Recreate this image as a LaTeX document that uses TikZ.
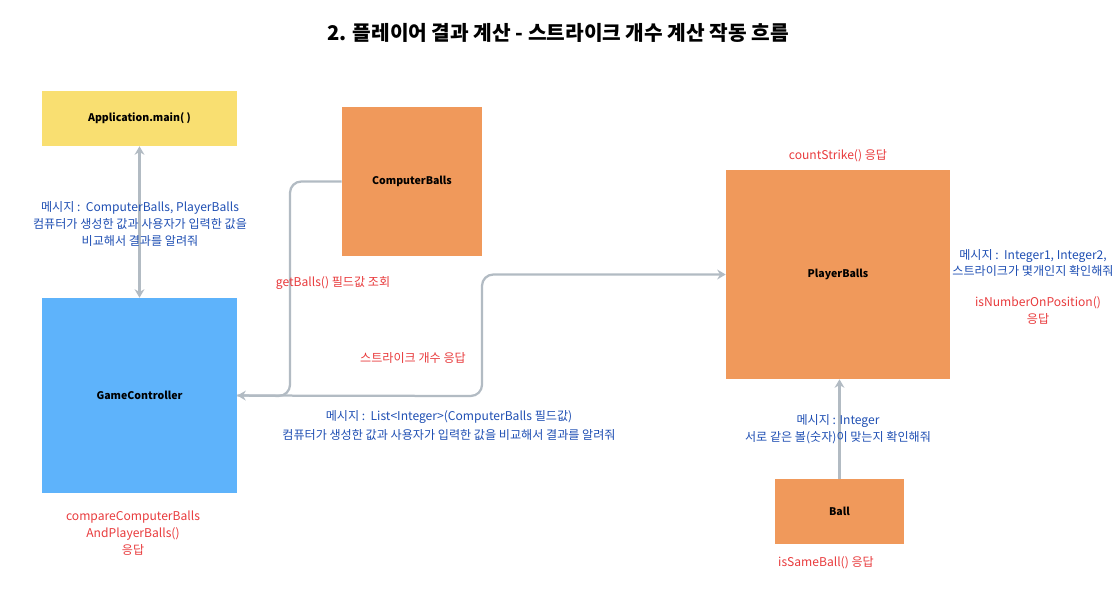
\documentclass[tikz,border=0pt]{standalone}
\usepackage{fontspec}
\setmainfont{Noto Sans CJK KR}
\usepackage{xcolor}
\usetikzlibrary{arrows.meta}
\definecolor{appyellow}{HTML}{F9DF71}
\definecolor{ballorange}{HTML}{F0995B}
\definecolor{ctrlblue}{HTML}{5EB3FB}
\definecolor{linegrey}{HTML}{B2BBC3}
\definecolor{msgblue}{HTML}{1F4FB3}
\definecolor{resred}{HTML}{E83A3C}

\begin{document}
\begin{tikzpicture}[x=0.025cm, y=-0.025cm,
    >={Stealth[length=6pt, width=7pt]},
    box/.style={rectangle, inner sep=0pt, font=\fontsize{7.5}{8}\selectfont\bfseries},
    conn/.style={line width=1.6pt, color=linegrey, rounded corners=8pt},
    msg/.style={align=center, text=msgblue, font=\fontsize{8.6}{12}\selectfont, inner sep=0pt},
    res/.style={align=center, text=resred, font=\fontsize{8.6}{12}\selectfont, inner sep=0pt}
]
    \useasboundingbox (0,0) rectangle (1117,608);

    \node[font=\fontsize{14.4}{16}\selectfont\bfseries] (title) at (558,33) {2. 플레이어 결과 계산 - 스트라이크 개수 계산 작동 흐름};

    % objects
    \node[box, fill=appyellow, minimum width=4.875cm, minimum height=1.375cm] (app) at (139.5,118.5) {Application.main( )};
    \node[box, fill=ballorange, minimum width=3.5cm, minimum height=3.725cm] (cb) at (412,181.5) {ComputerBalls};
    \node[box, fill=ctrlblue, minimum width=4.875cm, minimum height=4.875cm] (gc) at (139.5,395.5) {GameController};
    \node[box, fill=ballorange, minimum width=5.6cm, minimum height=5.225cm] (pb) at (838,274.5) {PlayerBalls};
    \node[box, fill=ballorange, minimum width=3.225cm, minimum height=1.625cm] (ball) at (839.5,511.5) {Ball};

    \coordinate (bendA) at (290,396);
    \coordinate (bendB) at (482,396);

    % messages
    \draw[conn, <->] (app.south) -- (app.south |- gc.north);
    \draw[conn, ->] (cb.west) -| (bendA) -- (gc.east);
    \draw[conn, ->] (gc.east) -- (bendB) |- (pb.west);
    \draw[conn, ->] (ball.north) -- (ball.north |- pb.south);

    \node[msg] (msgapp) at (140,224) {메시지 :\ \ ComputerBalls, PlayerBalls\\컴퓨터가 생성한 값과 사용자가 입력한 값을\\비교해서 결과를 알려줘};
    \node[res] (resget) at (333,283) {getBalls() 필드값 조회};
    \node[res] (resstrike) at (413,358) {스트라이크 개수 응답};
    \node[msg, font=\fontsize{8.6}{13.5}\selectfont] (msglist) at (449,425.5) {메시지 :\ \ List<Integer>(ComputerBalls 필드값)\\컴퓨터가 생성한 값과 사용자가 입력한 값을 비교해서 결과를 알려줘};
    \node[res] (rescount) at (838,156) {countStrike() 응답};
    \node[msg] (msgpos) at (1033,263) {메시지 :\ \ Integer1, Integer2,\\스트라이크가 몇개인지 확인해줘};
    \node[res] (respos) at (1038,310.5) {isNumberOnPosition()\\응답};
    \node[msg] (msgball) at (838,429) {메시지 : Integer\\서로 같은 볼(숫자)이 맞는지 확인해줘};
    \node[res] (rescmp) at (133,533) {compareComputerBalls\\AndPlayerBalls()\\응답};
    \node[res] (ressame) at (826,563) {isSameBall() 응답};
\end{tikzpicture}
\end{document}
